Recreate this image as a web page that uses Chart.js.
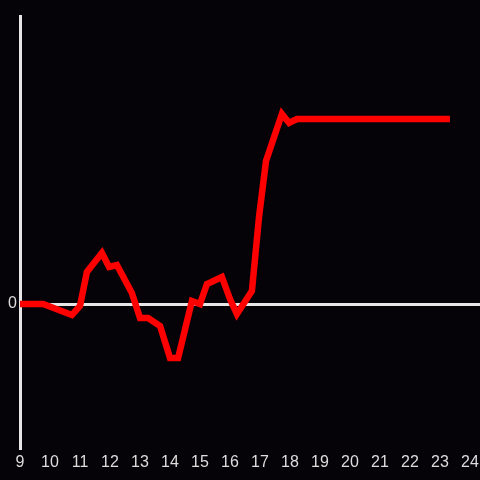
<!DOCTYPE html>
<html>
<head>
<meta charset="utf-8">
<style>
html,body{margin:0;padding:0;background:#050307;}
#wrap{width:480px;height:480px;}
</style>
<script src="https://cdn.jsdelivr.net/npm/chart.js@4/dist/chart.umd.min.js"></script>
</head>
<body>
<div id="wrap"><canvas id="c" width="480" height="480"></canvas></div>
<script>
const hours = [9, 9.77, 10.73, 11.0, 11.23, 11.73, 11.97, 12.23, 12.73, 13.0, 13.27, 13.67, 14.0, 14.27, 14.73, 15.0, 15.23, 15.73, 16.0, 16.23, 16.73, 16.97, 17.2, 17.73, 17.97, 18.23, 23.33];
const values = [0, 0, -11, -2, 32, 51, 37, 39, 11, -14, -14, -22, -54, -54, 3, 0, 20, 27, 5, -10, 13, 88, 143, 190, 181, 185, 185];
const xTicks = [9,10,11,12,13,14,15,16,17,18,19,20,21,22,23,24];
const yTicks = [0];

const bg = {
  id:'bg',
  beforeDraw(chart){
    const ctx = chart.ctx;
    ctx.save();
    ctx.fillStyle = '#050307';
    ctx.fillRect(0,0,chart.width,chart.height);
    ctx.restore();
  }
};

new Chart(document.getElementById('c'), {
  type: 'line',
  data: {
    datasets: [{
      data: hours.map((h,i)=>({x:h, y:values[i]})),
      borderColor: '#ff0000',
      borderWidth: 6.5,
      pointRadius: 0,
      tension: 0,
      fill: false
    }]
  },
  options: {
    responsive: false,
    animation: false,
    layout: {padding: {top: 16, left: 0, right: 0, bottom: 0}},
    plugins: {legend: {display: false}, tooltip: {enabled: false}},
    scales: {
      x: {
        type: 'linear',
        min: 9,
        max: 24.333,
        afterBuildTicks(scale){ scale.ticks = xTicks.map(v=>({value:v})); },
        afterFit(scale){ scale.height = 32; scale.paddingRight = 0; scale.paddingLeft = 0; },
        grid: {display: false, drawTicks: false},
        border: {display: false},
        ticks: {color: '#dddddd', font: {family: 'Liberation Sans', size: 16}, padding: 5, maxRotation: 0, autoSkip: false}
      },
      y: {
        type: 'linear',
        min: -144,
        max: 288,
        afterBuildTicks(scale){ scale.ticks = yTicks.map(v=>({value:v})); },
        afterFit(scale){ scale.width = 20; scale.paddingTop = 0; scale.paddingBottom = 0; },
        grid: {
          drawTicks: false,
          color: (c)=> c.tick && c.tick.value === 0 ? '#e6e6e6' : 'rgba(0,0,0,0)',
          lineWidth: 3
        },
        border: {display: true, color: '#e6e6e6', width: 3},
        ticks: {color: '#dddddd', font: {family: 'Liberation Sans', size: 16}, padding: 3}
      }
    }
  },
  plugins: [bg]
});
</script>
</body>
</html>
